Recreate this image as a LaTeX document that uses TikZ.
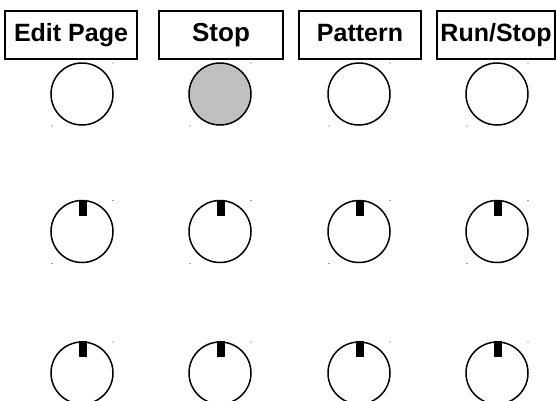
\documentclass[tikz,border=0pt]{standalone}
\usepackage{fontspec}
\setmainfont{Liberation Sans}
\usetikzlibrary{calc}
\definecolor{knobgray}{HTML}{C0C0C0}
\tikzset{
  label box/.style={draw, line width=1.6pt, minimum height=48pt, inner sep=0pt,
    text height=18pt, text depth=5pt, font=\bfseries\fontsize{25}{25}\selectfont},
  knob/.style={circle, draw, line width=1.5pt, minimum size=62pt, inner sep=0pt},
  marker/.style={fill=black},
  speck/.style={fill=black!70}
}
\begin{document}
\begin{tikzpicture}[x=1pt,y=-1pt]
\clip (0,0) rectangle (557,400);
\fill[white] (0,0) rectangle (557,400);
% header boxes
\node[label box, minimum width=132pt] (b1) at (71,35) {Edit Page};
\node[label box, minimum width=124pt, font=\bfseries\fontsize{26}{26}\selectfont] (b2) at (221,35) {Stop};
\node[label box, minimum width=122pt] (b3) at (360,35) {Pattern};
\node[label box, minimum width=118pt] (b4) at (496,35) {Run/Stop};
% knobs
\foreach \c/\x in {1/82,2/220,3/359,4/497}{
  \foreach \r/\y in {1/94,2/231.5,3/373}{
    \ifnum\c=2 \ifnum\r=1
      \node[knob, fill=knobgray] (k\r\c) at (\x,\y) {};
    \else
      \node[knob] (k\r\c) at (\x,\y) {};
    \fi\else
      \node[knob] (k\r\c) at (\x,\y) {};
    \fi
    \fill[speck] ($(k\r\c.center)+(31,-31)$) circle (0.7);
    \fill[speck] ($(k\r\c.center)+(-30,32)$) circle (0.7);
    \ifnum\r>1
      \fill[marker] ($(k\r\c.north)+(-3,0)$) rectangle ($(k\r\c.north)+(5,16)$);
    \fi
  }
}
\end{tikzpicture}
\end{document}
